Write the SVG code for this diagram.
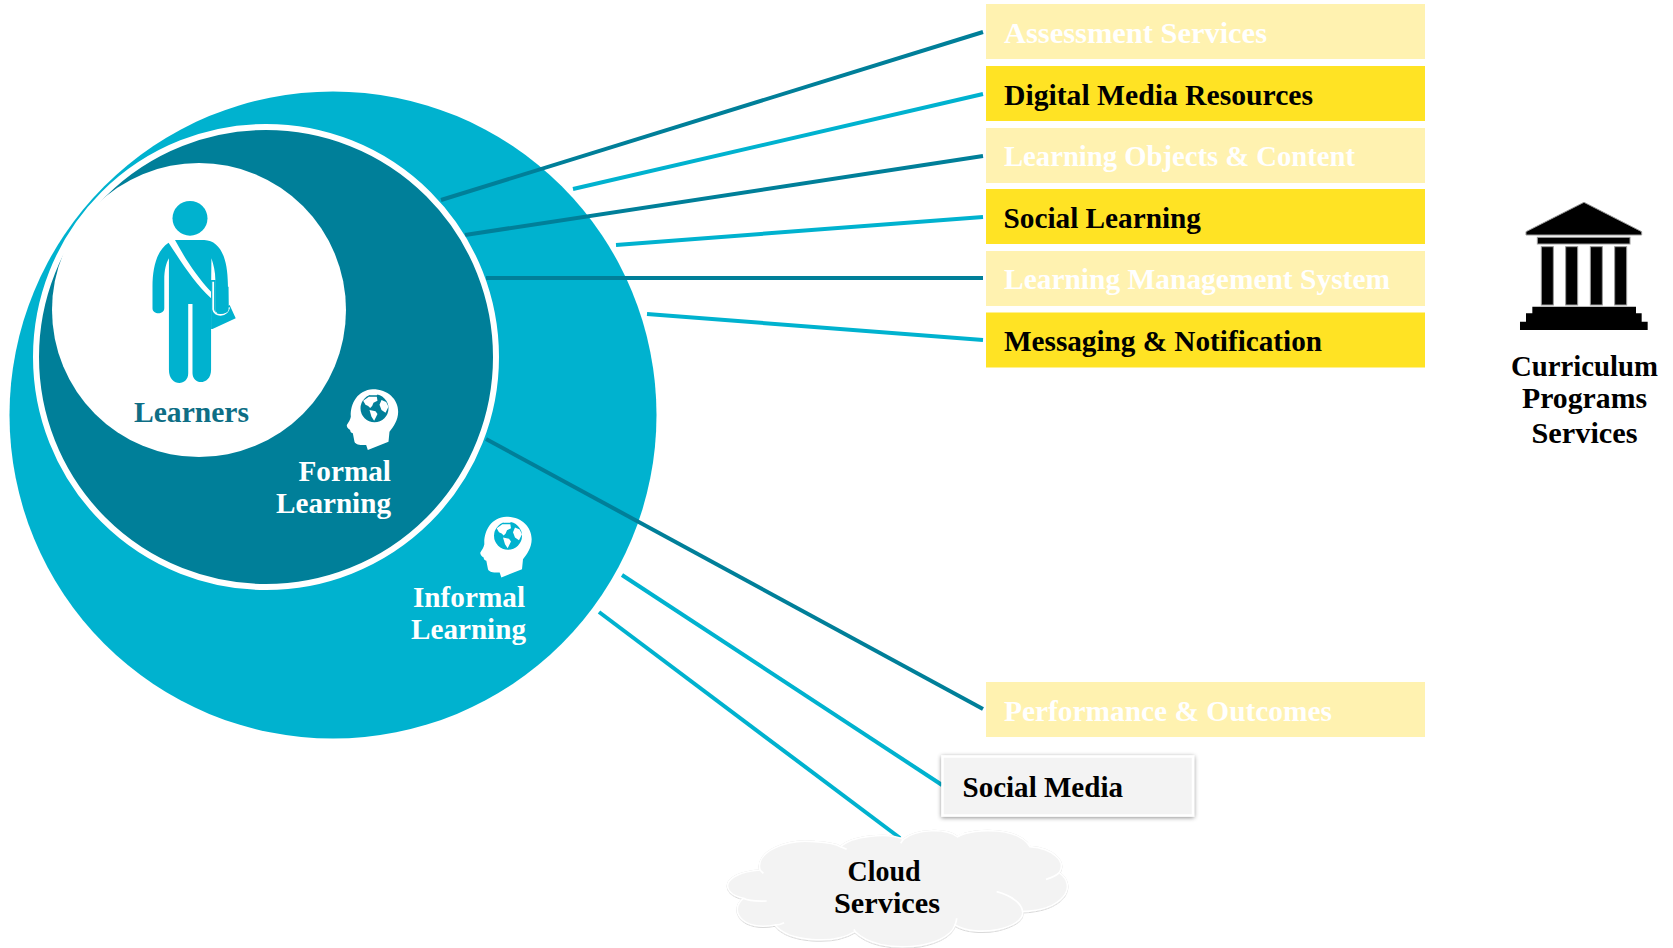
<svg xmlns="http://www.w3.org/2000/svg" width="1673" height="948" viewBox="0 0 1673 948">
<defs>
<style>
text{font-family:"Liberation Serif","Times New Roman",serif;font-weight:700;font-size:29.5px}
.y{fill:#FFE324}.p{fill:#FFF2B0}
.wt{fill:#fff}.bt{fill:#000}
.dk{stroke:#007F99;stroke-width:4;fill:none}
.cy{stroke:#00B2CF;stroke-width:4;fill:none}
</style>
<filter id="sh" x="-10%" y="-15%" width="120%" height="130%"><feDropShadow dx="0" dy="1" stdDeviation="2.2" flood-color="#000" flood-opacity="0.45"/></filter>
<g id="head">
<path fill="#fff" fill-rule="evenodd" d="M160,58C205,58 236,88 236,125C236,150 222,170 210,185L207,215L145,240L140,225C125,226 108,224 105,215L100,190C94,188 92,184 92,180C84,176 81,168 82,165C88,155 92,150 94,140C92,100 115,60 160,58ZM165,73A42,42 0 1 0 165.1,157A42,42 0 1 0 165,73Z"/>
<path fill="#fff" d="M131,92L148,80L172,80L174,92L162,98L158,108L152,114L146,108L138,104ZM150,120L168,124L174,132L164,152L156,140ZM186,90L200,96L207,110L198,128L186,120L180,104ZM150,68L178,66L172,76L152,76Z"/>
</g>
</defs>

<g id="informal-learning">
<circle cx="333" cy="415" r="323.5" fill="#00B2CF"/>
</g>

<g id="connectors">
<line class="dk" x1="441" y1="200" x2="983" y2="32"/>
<line class="cy" x1="573" y1="189" x2="983" y2="94"/>
<line class="dk" x1="465" y1="235" x2="983" y2="156"/>
<line class="cy" x1="616" y1="245" x2="983" y2="217"/>
<line class="dk" x1="486" y1="278" x2="983" y2="278"/>
<line class="cy" x1="647" y1="314" x2="983" y2="340"/>
<line class="dk" x1="486" y1="439" x2="983" y2="709"/>
<line class="cy" x1="622" y1="575" x2="942" y2="785"/>
<line class="cy" x1="599" y1="612" x2="900" y2="838"/>
</g>

<g id="formal-learning">
<circle cx="266" cy="357" r="230" fill="#007F99" stroke="#fff" stroke-width="6"/>
</g>
<g id="learners">
<circle cx="199" cy="310" r="147" fill="#fff"/>
<g transform="translate(0,80) scale(0.35714,0.33333)" fill="#00B2CF">
<ellipse cx="532" cy="415" rx="49" ry="52"/>
<path d="M472,488C440,510 427,560 427,620L427,685C427,705 460,705 460,685L460,600C460,570 465,550 473,535L473,870C473,920 527,920 527,880L527,672L539,672L539,880C540,918 591,915 591,870L591,655C545,610 510,550 472,488Z"/>
<path d="M490,480L572,480C615,482 637,530 638,610L640,690C636,708 606,708 604,690L603,600C603,575 598,555 592,535L591,635C550,590 515,530 490,480Z"/>
<path d="M591,600L604,600L604,700L643,675L660,715L595,747L591,747Z"/>
<path fill="none" stroke="#fff" stroke-width="5" d="M597,605L597,688C600,710 635,712 642,682"/>
<path d="M604,620L640,620L640,690C636,705 606,705 604,690Z"/>
</g>
<text x="191.500" y="422" text-anchor="middle" textLength="115" lengthAdjust="spacingAndGlyphs" style="fill:#0E6E85">Learners</text>
</g>

<g id="formal-label">
<use href="#head" transform="translate(319.500,370) scale(0.3333)"/>
<text class="wt" x="298.500" y="481" textLength="92.500" lengthAdjust="spacingAndGlyphs">Formal</text>
<text class="wt" x="276" y="513" textLength="115" lengthAdjust="spacingAndGlyphs">Learning</text>
</g>
<g id="informal-label">
<use href="#head" transform="translate(453,497.5) scale(0.3333)"/>
<text class="wt" x="413" y="607" textLength="112" lengthAdjust="spacingAndGlyphs">Informal</text>
<text class="wt" x="411" y="639" textLength="115" lengthAdjust="spacingAndGlyphs">Learning</text>
</g>

<g id="assessment"><rect class="p" x="986" y="4" width="439" height="55"/><text class="wt" x="1004" y="43" textLength="263" lengthAdjust="spacingAndGlyphs">Assessment Services</text></g>
<g id="digital-media"><rect class="y" x="986" y="66" width="439" height="55"/><text class="bt" x="1004" y="105" textLength="309" lengthAdjust="spacingAndGlyphs">Digital Media Resources</text></g>
<g id="learning-objects"><rect class="p" x="986" y="128" width="439" height="55"/><text class="wt" x="1004" y="166" textLength="351" lengthAdjust="spacingAndGlyphs">Learning Objects &amp; Content</text></g>
<g id="social-learning"><rect class="y" x="986" y="189" width="439" height="55"/><text class="bt" x="1003.500" y="228" textLength="197.500" lengthAdjust="spacingAndGlyphs">Social Learning</text></g>
<g id="lms"><rect class="p" x="986" y="251" width="439" height="55"/><text class="wt" x="1004" y="289" textLength="386" lengthAdjust="spacingAndGlyphs">Learning Management System</text></g>
<g id="messaging"><rect class="y" x="986" y="312.500" width="439" height="55"/><text class="bt" x="1004" y="351" textLength="318" lengthAdjust="spacingAndGlyphs">Messaging &amp; Notification</text></g>
<g id="performance"><rect class="p" x="986" y="682" width="439" height="55"/><text class="wt" x="1004" y="721" textLength="328" lengthAdjust="spacingAndGlyphs">Performance &amp; Outcomes</text></g>

<g id="social-media">
<rect x="942.500" y="756.500" width="250.500" height="59" fill="#F3F3F3" stroke="#fff" stroke-width="2.500" filter="url(#sh)"/>
<text class="bt" x="962.500" y="797" textLength="160.500" lengthAdjust="spacingAndGlyphs">Social Media</text>
</g>

<g id="cloud-services">
<g transform="translate(700,730) scale(0.33333)">
<path filter="url(#sh)" fill="#F3F3F3" stroke="#fff" stroke-width="5" d="M180,420C165,365 260,325 345,335C375,337 405,340 422,350C450,320 560,305 610,328C650,295 740,295 772,320C830,290 960,295 990,350C1060,355 1100,395 1078,428C1135,470 1090,540 968,545C975,595 830,625 765,585C745,655 540,680 465,605C400,645 265,635 225,585C125,605 85,540 130,505C60,490 60,430 180,420Z"/>
<path fill="none" stroke="#fff" stroke-width="5" d="M130,505C150,515 175,514 200,513M225,585C235,585 245,582 252,578M465,605L462,598M765,585C768,578 770,572 770,565M968,545C965,520 935,497 890,485M1078,428C1068,438 1052,444 1038,448M990,350L985,338M772,320L790,310M610,328L602,340M422,350L440,358M180,420L190,430"/>
</g>
<text class="bt" x="884" y="881" text-anchor="middle" textLength="73" lengthAdjust="spacingAndGlyphs">Cloud</text>
<text class="bt" x="887" y="913" text-anchor="middle" textLength="106" lengthAdjust="spacingAndGlyphs">Services</text>
</g>

<g id="curriculum">
<g transform="translate(1480,180) scale(0.33333)" fill="#000" stroke="#9a9a9a" stroke-width="3">
<path d="M312,67L485,155L485,165L138,165L138,155Z"/>
<rect x="172" y="172" width="278" height="20"/>
<rect x="184" y="200" width="36" height="175"/>
<rect x="257" y="200" width="36" height="175"/>
<rect x="331" y="200" width="36" height="175"/>
<rect x="404" y="200" width="36" height="175"/>
<path stroke="none" d="M157,380L468,380L468,400L485,400L485,425L503,425L503,450L120,450L120,425L138,425L138,400L157,400Z"/>
</g>
<text class="bt" x="1584.500" y="376" text-anchor="middle" textLength="147" lengthAdjust="spacingAndGlyphs">Curriculum</text>
<text class="bt" x="1584.500" y="408" text-anchor="middle" textLength="125" lengthAdjust="spacingAndGlyphs">Programs</text>
<text class="bt" x="1584.500" y="443" text-anchor="middle" textLength="106" lengthAdjust="spacingAndGlyphs">Services</text>
</g>
</svg>
